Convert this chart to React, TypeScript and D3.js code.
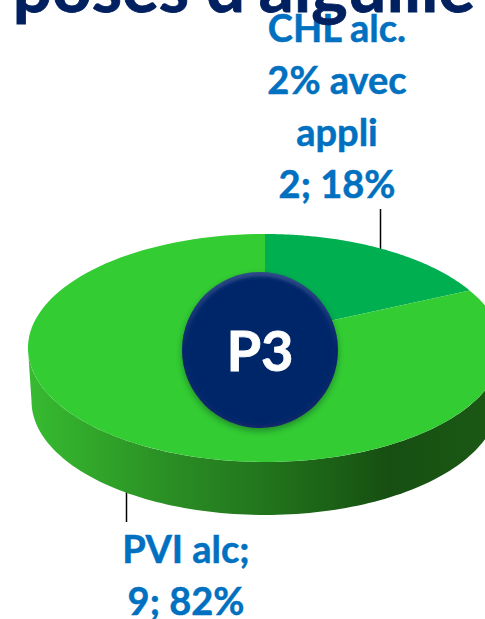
import React from "react";
import * as d3 from "d3";

const categories = ["CHL alc. 2% avec appli", "PVI alc"];
const values = [2, 9];
const percents = ["18%", "82%"];
const sliceColors = ["#00b050", "#33cc33"];
const titleText = "poses d'aiguille";
const badgeText = "P3";
const labelLinesA = ["CHL alc.", "2% avec", "appli", `${values[0]}; ${percents[0]}`];
const labelLinesB = ["PVI alc;", `${values[1]}; ${percents[1]}`];

const W = 485, H = 619;
const cx = 265, apexY = 335;
const Sx = 235.5, Sy = 112.5, k = 0.114;
const depth = 53;

// circle -> perspective ellipse
const project = (a: number, dy = 0, shrink = 1): [number, number] => {
  const u = Math.sin(a), v = -Math.cos(a);
  const d = 1 - k * v;
  return [cx + (Sx * shrink * u) / d, apexY + (Sy * v) / d + dy];
};

const line = d3.line<[number, number]>();
const arcPts = (a0: number, a1: number, dy = 0, shrink = 1) =>
  d3.range(0, 121).map((i) => project(a0 + ((a1 - a0) * i) / 120, dy, shrink));

const pie = d3.pie<number>().sort(null).value((d) => d)(values);

const topPaths = pie.map((p) => {
  const pts = arcPts(p.startAngle, p.endAngle);
  return line([[cx, apexY], ...pts])! + "Z";
});

// visible side wall: front part of the disc, between the silhouette extremes
const extreme = Math.acos(-k);
const wallFront = arcPts(extreme, 2 * Math.PI - extreme);
const wallBack = arcPts(extreme, 2 * Math.PI - extreme, depth, 0.985).reverse();
const wallPath = line([...wallFront, ...wallBack])! + "Z";

const wallStops: [number, string][] = [
  [0, "#37bb31"],
  [0.16, "#30a329"],
  [0.3, "#2a8e24"],
  [0.48, "#23771d"],
  [0.62, "#1c6417"],
  [0.76, "#174f12"],
  [1, "#1b5a15"],
];

const font = "Lato, Carlito, 'Noto Sans', sans-serif";

export default function App() {
  return (
    <svg
      width={W}
      height={H}
      viewBox={`0 0 ${W} ${H}`}
      style={{ position: "absolute", left: 0, top: 0, display: "block" }}
    >
      <defs>
        <linearGradient id="wall" gradientUnits="userSpaceOnUse" x1={28} x2={502} y1={0} y2={0}>
          {wallStops.map(([o, c]) => (
            <stop key={o} offset={o} stopColor={c} />
          ))}
        </linearGradient>
        <linearGradient id="rim" x1="0" x2="0" y1="0" y2="1">
          <stop offset="0" stopColor="#2f4c88" />
          <stop offset="0.5" stopColor="#05266a" />
          <stop offset="1" stopColor="#14296a" />
        </linearGradient>
        <filter id="shadow" x="-20%" y="-20%" width="140%" height="140%">
          <feGaussianBlur stdDeviation="3" />
        </filter>
        <filter id="soft" x="-10%" y="-10%" width="120%" height="120%">
          <feGaussianBlur stdDeviation="1.6" />
        </filter>
      </defs>

      <rect width={W} height={H} fill="#ffffff" />

      {labelLinesA.map((t, i) => (
        <text key={t} x={337} y={42 + i * 52} textAnchor="middle" fontFamily={font} fontWeight={700} fontSize={38} fill="#0070c0" stroke="#0070c0" strokeWidth={0.5}>
          {t}
        </text>
      ))}
      {labelLinesB.map((t, i) => (
        <text key={t} x={186} y={563 + i * 52} textAnchor="middle" fontFamily={font} fontWeight={700} fontSize={38} fill="#0070c0" stroke="#0070c0" strokeWidth={0.5}>
          {t}
        </text>
      ))}

      <line x1={380.5} x2={380.5} y1={209} y2={250} stroke="#000" strokeWidth={1.5} />
      <line x1={126.5} x2={126.5} y1={488} y2={522} stroke="#000" strokeWidth={1.5} />

      <path d={wallPath} fill="url(#wall)" />
      {topPaths.map((d, i) => (
        <path key={categories[i]} d={d} fill={sliceColors[i]} />
      ))}

      <circle cx={260} cy={353} r={78} fill="#0b3a20" opacity={0.45} filter="url(#shadow)" />
      <circle cx={260} cy={350} r={78} fill="url(#rim)" />
      <circle cx={260} cy={351} r={74.5} fill="#05266a" filter="url(#soft)" />
      <text x={260} y={371} textAnchor="middle" fontFamily={font} fontWeight={700} fontSize={56} fill="#ffffff" stroke="#ffffff" strokeWidth={0.8}>
        {badgeText}
      </text>

      <text x={244} y={12} textAnchor="middle" fontFamily={font} fontWeight={700} fontSize={69} fill="#002060" stroke="#002060" strokeWidth={0.8}>
        {titleText}
      </text>
    </svg>
  );
}
